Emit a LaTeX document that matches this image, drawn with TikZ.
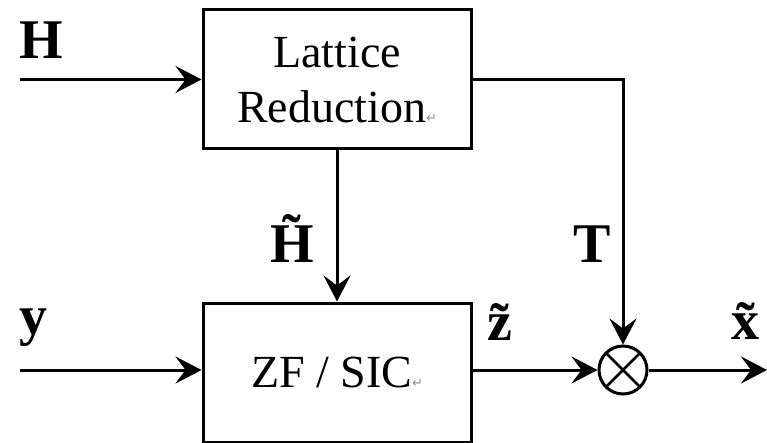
\documentclass[tikz,border=0pt]{standalone}
\usepackage{fontspec}
\setmainfont{Liberation Serif}
\newfontfamily\marksfont{DejaVu Sans}
\usepackage{tikz}
\usepackage{xcolor}
\usetikzlibrary{positioning, shapes, arrows.meta, calc}
\definecolor{MarkGray}{RGB}{140,140,140}
\tikzset{
  blockbox/.style={draw, line width=3pt, minimum width=268pt, inner sep=0pt, align=center, font=\fontsize{46}{55}\selectfont},
  sigline/.style={line width=3pt, -{Stealth[length=26pt, width=27pt, inset=10pt]}},
  siglabel/.style={anchor=base, inner sep=0pt, font=\fontsize{56}{60}\selectfont\bfseries},
}
\newcommand{\parmark}{{\marksfont\fontsize{13}{13}\selectfont\color{MarkGray}↵}}

\begin{document}
\begin{tikzpicture}[x=1pt, y=-1pt]
\useasboundingbox (0,0) rectangle (767,443);
\node[blockbox, minimum height=139pt] (lr) at (337,79.5) {Lattice\\Reduction\parmark};
\node[blockbox, minimum height=139pt] (zf) at (337,372.5) {ZF / SIC\parmark};
\node[circle, draw, line width=3pt, minimum size=48pt, inner sep=0pt,
  path picture={\draw[line width=2.5pt] (path picture bounding box.north west) -- (path picture bounding box.south east)
    (path picture bounding box.north east) -- (path picture bounding box.south west);}] (mult) at (623,370) {};
\coordinate (hin) at (20,79.5);
\coordinate (yin) at (20,370);
\coordinate (xout) at (767,370);
\draw[sigline] (hin) -- (lr.west);
\draw[sigline] (yin) -- (yin -| zf.west);
\draw[sigline] (lr.south) -- (zf.north);
\draw[sigline] (lr.east) -| (mult.north);
\draw[sigline] (mult -| zf.east) -- (mult.west);
\draw[sigline] (mult.east) -- (xout);
\node[siglabel] (hlbl) at (41,59) {H};
\node[siglabel] (ylbl) at (33,334) {y};
\node[siglabel] (htlbl) at (292,262) {\~{H}};
\node[siglabel] (tlbl) at (592,262) {T};
\node[siglabel] (ztlbl) at (500,340) {\~{z}};
\node[siglabel] (xtlbl) at (745,339) {\~{x}};
\end{tikzpicture}
\end{document}
